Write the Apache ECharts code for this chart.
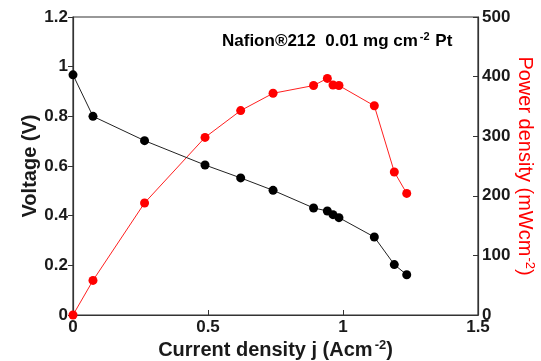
<!DOCTYPE html>
<html>
<head>
<meta charset="utf-8">
<script src="https://cdn.jsdelivr.net/npm/echarts@6/dist/echarts.min.js"></script>
<style>
  html, body { margin: 0; padding: 0; background: #fff; }
  #chart { width: 541px; height: 361px; }
</style>
</head>
<body>
<div id="chart"></div>
<script>
// Polarization and power-density curves of a PEM fuel cell
const currentDensity = [0, 0.074, 0.265, 0.489, 0.621, 0.741, 0.891, 0.942, 0.963, 0.985, 1.116, 1.190, 1.236];
const voltage        = [0.967, 0.80, 0.702, 0.604, 0.552, 0.502, 0.431, 0.419, 0.404, 0.392, 0.314, 0.203, 0.162];
const powerDensity   = [0, 58, 188, 298, 343, 372, 385, 397, 386, 385, 351, 240, 204];

const xTicks = { min: 0, max: 1.5, interval: 0.5 };
const vTicks = { min: 0, max: 1.2, interval: 0.2 };
const pTicks = { min: 0, max: 500, interval: 100 };

const FONT = '"Liberation Sans", Arial, sans-serif';
const AXIS_COLOR = '#333';
const TEXT_COLOR = '#1a1a1a';

const pairs = (xs, ys) => xs.map((x, i) => [x, ys[i]]);

const chart = echarts.init(document.getElementById('chart'), null, { renderer: 'canvas' });

const labelStyle = { color: TEXT_COLOR, fontFamily: FONT, fontWeight: 'bold', fontSize: 17 };

chart.setOption({
  animation: false,
  backgroundColor: '#fff',
  grid: {
    left: 73, right: 63, top: 17, bottom: 46,
    outerBoundsMode: 'none', containLabel: false,
    show: true, borderColor: AXIS_COLOR, borderWidth: 1.2
  },
  graphic: [{
    type: 'text',
    left: 222,
    top: 31,
    style: {
      text: '{t|Nafion®212  0.01 mg cm}{s|-2}{t| Pt}',
      rich: {
        t: { fontFamily: FONT, fontWeight: 'bold', fontSize: 17, color: TEXT_COLOR },
        s: { fontFamily: FONT, fontWeight: 'bold', fontSize: 11, color: TEXT_COLOR, padding: [0, 1, 9, 2] }
      }
    }
  }],
  xAxis: {
    type: 'value',
    min: xTicks.min, max: xTicks.max, interval: xTicks.interval,
    splitLine: { show: false },
    axisLine: { lineStyle: { color: AXIS_COLOR, width: 1.2 } },
    axisTick: { inside: true, length: 5, lineStyle: { color: AXIS_COLOR } },
    axisLabel: Object.assign({ margin: 4 }, labelStyle),
    name: '{t|Current density j (Acm}{s|-2}{t|)}',
    nameLocation: 'middle',
    nameGap: 24,
    nameMoveOverlap: false,
    nameTextStyle: {
      rich: {
        t: { fontFamily: FONT, fontWeight: 'bold', fontSize: 20, color: TEXT_COLOR },
        s: { fontFamily: FONT, fontWeight: 'bold', fontSize: 13, color: TEXT_COLOR, padding: [0, 0, 9, 2] }
      }
    }
  },
  yAxis: [{
    type: 'value',
    position: 'left',
    min: vTicks.min, max: vTicks.max, interval: vTicks.interval,
    splitLine: { show: false },
    axisLine: { show: true, lineStyle: { color: AXIS_COLOR, width: 1.2 } },
    axisTick: { show: true, inside: false, length: 5, lineStyle: { color: AXIS_COLOR } },
    axisLabel: Object.assign({ margin: 5 }, labelStyle),
    name: 'Voltage (V)',
    nameLocation: 'middle',
    nameGap: 33,
    nameMoveOverlap: false,
    nameTextStyle: { fontFamily: FONT, fontWeight: 'bold', fontSize: 20, color: TEXT_COLOR }
  }, {
    type: 'value',
    position: 'right',
    min: pTicks.min, max: pTicks.max, interval: pTicks.interval,
    splitLine: { show: false },
    axisLine: { show: true, lineStyle: { color: AXIS_COLOR, width: 1.2 } },
    axisTick: { show: true, inside: true, length: 5, lineStyle: { color: AXIS_COLOR } },
    axisLabel: Object.assign({ margin: 4 }, labelStyle),
    name: '{t|Power density (mWcm}{s|-2}{t|)}',
    nameLocation: 'middle',
    nameRotate: -90,
    nameGap: 36,
    nameMoveOverlap: false,
    nameTextStyle: {
      rich: {
        t: { fontFamily: FONT, fontSize: 20, color: '#ff0000' },
        s: { fontFamily: FONT, fontSize: 13, color: '#ff0000', padding: [0, 0, 9, 1] }
      }
    }
  }],
  series: [{
    name: 'Voltage',
    type: 'line',
    yAxisIndex: 0,
    data: pairs(currentDensity, voltage),
    symbol: 'circle',
    symbolSize: 9,
    itemStyle: { color: '#000' },
    lineStyle: { color: '#222', width: 1 },
    z: 3
  }, {
    name: 'Power density',
    type: 'line',
    yAxisIndex: 1,
    data: pairs(currentDensity, powerDensity),
    symbol: 'circle',
    symbolSize: 9,
    itemStyle: { color: '#ff0000' },
    lineStyle: { color: '#ff2020', width: 1 },
    z: 2
  }]
});
</script>
</body>
</html>
